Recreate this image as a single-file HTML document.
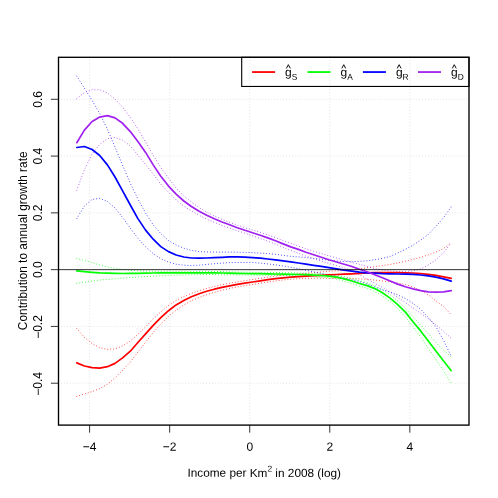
<!DOCTYPE html>
<html><head><meta charset="utf-8"><title>plot</title>
<style>html,body{margin:0;padding:0;background:#fff}svg{display:block;will-change:transform}text{font-family:"Liberation Sans",sans-serif;fill:#000}</style></head>
<body>
<svg width="498" height="498" viewBox="0 0 498 498">
<rect width="498" height="498" fill="#fff"/>
<path d="M89.60,57.3 V425.1 M169.66,57.3 V425.1 M249.72,57.3 V425.1 M329.78,57.3 V425.1 M409.84,57.3 V425.1 M58.5,99.31 H469.0 M58.5,156.09 H469.0 M58.5,212.87 H469.0 M58.5,269.65 H469.0 M58.5,326.43 H469.0 M58.5,383.21 H469.0" fill="none" stroke="#D3D3D3" stroke-width="0.74" stroke-dasharray="0.01 2.95" stroke-linecap="round"/>
<path d="M76.8,328.5 L84.4,337.4 L92.1,343.5 L99.7,347.7 L107.4,349.4 L115.0,348.9 L122.6,345.9 L130.3,341.1 L137.9,334.4 L145.6,326.9 L153.2,318.8 L160.8,312.0 L168.5,305.4 L176.1,300.4 L183.8,296.6 L191.4,293.4 L199.1,290.7 L206.7,288.4 L214.3,286.5 L222.0,284.7 L229.6,283.2 L237.3,281.9 L244.9,280.7 L252.5,279.5 L260.2,278.3 L267.8,277.1 L275.5,276.1 L283.1,275.1 L290.7,274.4 L298.4,273.8 L306.0,273.3 L313.7,272.7 L321.3,272.0 L328.9,271.3 L336.6,270.9 L344.2,270.5 L351.9,270.0 L359.5,269.0 L367.2,267.7 L374.8,266.6 L382.4,265.6 L390.1,264.5 L397.7,262.9 L405.4,261.2 L413.0,259.3 L420.6,257.4 L428.3,254.9 L435.9,252.1 L443.6,248.5 L451.2,242.8" fill="none" stroke="#FF0000" stroke-width="0.85" stroke-dasharray="0.01 2.95" stroke-linecap="round"/>
<path d="M76.8,396.3 L84.4,394.0 L92.1,391.6 L99.7,388.6 L107.4,384.3 L115.0,377.9 L122.6,370.3 L130.3,362.0 L137.9,352.1 L145.6,342.2 L153.2,332.4 L160.8,324.2 L168.5,316.3 L176.1,310.2 L183.8,305.0 L191.4,300.7 L199.1,297.5 L206.7,294.7 L214.3,292.3 L222.0,290.3 L229.6,288.4 L237.3,286.9 L244.9,285.6 L252.5,284.5 L260.2,283.2 L267.8,282.0 L275.5,281.0 L283.1,280.0 L290.7,279.3 L298.4,278.7 L306.0,278.3 L313.7,278.2 L321.3,278.2 L328.9,278.3 L336.6,278.4 L344.2,278.5 L351.9,278.6 L359.5,278.9 L367.2,279.3 L374.8,280.1 L382.4,280.9 L390.1,281.9 L397.7,283.0 L405.4,284.6 L413.0,286.9 L420.6,290.4 L428.3,294.9 L435.9,300.9 L443.6,306.5 L451.2,314.7" fill="none" stroke="#FF0000" stroke-width="0.85" stroke-dasharray="0.01 2.95" stroke-linecap="round"/>
<path d="M76.8,258.5 L84.4,260.5 L92.1,262.7 L99.7,265.0 L107.4,267.0 L115.0,268.3 L122.6,269.4 L130.3,270.3 L137.9,270.7 L145.6,271.0 L153.2,271.3 L160.8,271.4 L168.5,271.4 L176.1,271.4 L183.8,271.4 L191.4,271.4 L199.1,271.4 L206.7,271.4 L214.3,271.5 L222.0,271.6 L229.6,271.8 L237.3,272.0 L244.9,272.1 L252.5,272.2 L260.2,272.3 L267.8,272.4 L275.5,272.5 L283.1,272.7 L290.7,272.8 L298.4,273.0 L306.0,273.2 L313.7,273.5 L321.3,273.9 L328.9,274.4 L336.6,275.3 L344.2,276.7 L351.9,278.5 L359.5,280.8 L367.2,282.8 L374.8,285.7 L382.4,289.8 L390.1,294.7 L397.7,300.9 L405.4,308.5 L413.0,316.8 L420.6,325.0 L428.3,333.7 L435.9,342.5 L443.6,350.4 L451.2,357.0" fill="none" stroke="#00FF00" stroke-width="0.85" stroke-dasharray="0.01 2.95" stroke-linecap="round"/>
<path d="M76.8,283.4 L84.4,282.2 L92.1,281.0 L99.7,280.0 L107.4,279.5 L115.0,278.8 L122.6,278.1 L130.3,277.5 L137.9,277.0 L145.6,276.6 L153.2,276.2 L160.8,275.7 L168.5,275.3 L176.1,275.1 L183.8,274.9 L191.4,274.7 L199.1,274.6 L206.7,274.6 L214.3,274.6 L222.0,274.7 L229.6,274.8 L237.3,274.9 L244.9,274.9 L252.5,275.0 L260.2,275.1 L267.8,275.2 L275.5,275.4 L283.1,275.5 L290.7,275.7 L298.4,275.9 L306.0,276.2 L313.7,276.6 L321.3,277.2 L328.9,277.9 L336.6,279.1 L344.2,281.1 L351.9,283.4 L359.5,286.0 L367.2,288.3 L374.8,291.6 L382.4,296.0 L390.1,301.4 L397.7,308.5 L405.4,317.3 L413.0,326.7 L420.6,337.0 L428.3,348.3 L435.9,359.5 L443.6,371.0 L451.2,382.9" fill="none" stroke="#00FF00" stroke-width="0.85" stroke-dasharray="0.01 2.95" stroke-linecap="round"/>
<path d="M76.8,76.1 L84.4,88.2 L92.1,100.3 L99.7,113.5 L107.4,129.2 L115.0,147.1 L122.6,165.3 L130.3,183.3 L137.9,199.0 L145.6,213.1 L153.2,224.9 L160.8,233.6 L168.5,240.6 L176.1,245.0 L183.8,248.2 L191.4,250.4 L199.1,251.6 L206.7,252.0 L214.3,252.1 L222.0,252.1 L229.6,252.1 L237.3,252.2 L244.9,252.4 L252.5,252.7 L260.2,253.1 L267.8,253.6 L275.5,254.3 L283.1,255.4 L290.7,256.3 L298.4,256.9 L306.0,257.6 L313.7,258.4 L321.3,259.3 L328.9,260.2 L336.6,261.1 L344.2,261.5 L351.9,261.7 L359.5,261.3 L367.2,260.8 L374.8,259.8 L382.4,258.4 L390.1,256.4 L397.7,253.0 L405.4,249.3 L413.0,245.2 L420.6,240.2 L428.3,234.4 L435.9,226.5 L443.6,217.6 L451.2,206.9" fill="none" stroke="#0000FF" stroke-width="0.85" stroke-dasharray="0.01 2.95" stroke-linecap="round"/>
<path d="M76.8,218.7 L84.4,206.0 L92.1,199.4 L99.7,198.3 L107.4,201.4 L115.0,208.0 L122.6,217.5 L130.3,228.1 L137.9,238.3 L145.6,246.7 L153.2,253.6 L160.8,258.8 L168.5,262.1 L176.1,264.2 L183.8,265.2 L191.4,265.5 L199.1,265.2 L206.7,264.4 L214.3,263.7 L222.0,263.1 L229.6,262.6 L237.3,262.5 L244.9,262.5 L252.5,262.5 L260.2,263.1 L267.8,263.9 L275.5,264.9 L283.1,266.0 L290.7,267.3 L298.4,268.7 L306.0,270.3 L313.7,271.9 L321.3,273.5 L328.9,275.0 L336.6,276.5 L344.2,278.1 L351.9,279.7 L359.5,281.6 L367.2,283.9 L374.8,287.1 L382.4,289.7 L390.1,291.9 L397.7,294.9 L405.4,298.5 L413.0,303.4 L420.6,309.2 L428.3,317.3 L435.9,326.7 L443.6,340.4 L451.2,356.3" fill="none" stroke="#0000FF" stroke-width="0.85" stroke-dasharray="0.01 2.95" stroke-linecap="round"/>
<path d="M76.8,98.6 L84.4,92.6 L92.1,89.7 L99.7,89.7 L107.4,92.9 L115.0,99.1 L122.6,107.2 L130.3,117.3 L137.9,129.0 L145.6,142.0 L153.2,155.2 L160.8,167.4 L168.5,178.1 L176.1,188.1 L183.8,196.0 L191.4,202.1 L199.1,207.6 L206.7,212.1 L214.3,216.0 L222.0,219.4 L229.6,222.4 L237.3,225.2 L244.9,227.7 L252.5,230.0 L260.2,232.4 L267.8,234.9 L275.5,237.6 L283.1,240.5 L290.7,243.3 L298.4,246.1 L306.0,248.8 L313.7,251.3 L321.3,253.6 L328.9,255.8 L336.6,258.0 L344.2,260.2 L351.9,262.3 L359.5,264.4 L367.2,266.5 L374.8,268.7 L382.4,270.0 L390.1,270.9 L397.7,271.5 L405.4,271.4 L413.0,270.9 L420.6,269.1 L428.3,265.0 L435.9,259.8 L443.6,252.7 L451.2,242.7" fill="none" stroke="#A020F0" stroke-width="0.85" stroke-dasharray="0.01 2.95" stroke-linecap="round"/>
<path d="M76.8,190.2 L84.4,169.6 L92.1,153.9 L99.7,144.3 L107.4,138.8 L115.0,137.5 L122.6,140.1 L130.3,145.9 L137.9,155.2 L145.6,164.6 L153.2,174.0 L160.8,184.2 L168.5,192.2 L176.1,199.8 L183.8,206.1 L191.4,211.0 L199.1,215.3 L206.7,219.1 L214.3,222.4 L222.0,225.3 L229.6,228.2 L237.3,230.8 L244.9,233.2 L252.5,235.8 L260.2,238.4 L267.8,241.2 L275.5,244.2 L283.1,247.4 L290.7,250.4 L298.4,253.3 L306.0,256.2 L313.7,258.7 L321.3,261.1 L328.9,263.4 L336.6,265.6 L344.2,267.8 L351.9,270.6 L359.5,274.8 L367.2,279.2 L374.8,283.3 L382.4,287.4 L390.1,292.3 L397.7,297.3 L405.4,302.6 L413.0,308.0 L420.6,313.2 L428.3,318.7 L435.9,324.7 L443.6,331.5 L451.2,338.2" fill="none" stroke="#A020F0" stroke-width="0.85" stroke-dasharray="0.01 2.95" stroke-linecap="round"/>
<path d="M76.8,362.9 L84.4,366.0 L92.1,367.7 L99.7,368.1 L107.4,366.7 L115.0,363.4 L122.6,357.9 L130.3,351.2 L137.9,342.5 L145.6,333.9 L153.2,325.4 L160.8,317.6 L168.5,310.7 L176.1,304.9 L183.8,300.4 L191.4,296.8 L199.1,293.7 L206.7,291.3 L214.3,289.2 L222.0,287.3 L229.6,285.8 L237.3,284.4 L244.9,283.2 L252.5,282.0 L260.2,280.8 L267.8,279.6 L275.5,278.7 L283.1,277.8 L290.7,277.2 L298.4,276.6 L306.0,276.1 L313.7,275.7 L321.3,275.3 L328.9,274.9 L336.6,274.5 L344.2,274.2 L351.9,273.8 L359.5,273.3 L367.2,272.9 L374.8,272.7 L382.4,272.6 L390.1,272.6 L397.7,272.7 L405.4,272.8 L413.0,273.0 L420.6,273.5 L428.3,274.3 L435.9,275.4 L443.6,276.9 L451.2,278.4" fill="none" stroke="#FF0000" stroke-width="1.7" stroke-linecap="round" stroke-linejoin="round"/>
<path d="M76.8,270.8 L84.4,271.6 L92.1,272.3 L99.7,272.9 L107.4,273.2 L115.0,273.4 L122.6,273.5 L130.3,273.4 L137.9,273.3 L145.6,273.2 L153.2,273.0 L160.8,272.9 L168.5,272.9 L176.1,272.8 L183.8,272.8 L191.4,272.8 L199.1,272.8 L206.7,272.8 L214.3,272.9 L222.0,273.0 L229.6,273.2 L237.3,273.4 L244.9,273.5 L252.5,273.6 L260.2,273.7 L267.8,273.9 L275.5,274.0 L283.1,274.1 L290.7,274.3 L298.4,274.5 L306.0,274.7 L313.7,275.1 L321.3,275.5 L328.9,276.2 L336.6,277.2 L344.2,278.9 L351.9,281.0 L359.5,283.5 L367.2,285.6 L374.8,288.6 L382.4,292.8 L390.1,298.1 L397.7,304.7 L405.4,312.1 L413.0,321.7 L420.6,330.9 L428.3,340.9 L435.9,351.1 L443.6,361.1 L451.2,370.7" fill="none" stroke="#00FF00" stroke-width="1.7" stroke-linecap="round" stroke-linejoin="round"/>
<path d="M76.8,147.5 L84.4,146.5 L92.1,149.5 L99.7,155.5 L107.4,164.9 L115.0,177.0 L122.6,190.9 L130.3,205.0 L137.9,218.6 L145.6,230.1 L153.2,239.2 L160.8,246.6 L168.5,251.6 L176.1,255.0 L183.8,257.0 L191.4,258.0 L199.1,258.2 L206.7,258.0 L214.3,257.7 L222.0,257.3 L229.6,256.9 L237.3,256.9 L244.9,257.1 L252.5,257.6 L260.2,258.2 L267.8,259.0 L275.5,259.8 L283.1,260.8 L290.7,261.9 L298.4,263.0 L306.0,264.2 L313.7,265.3 L321.3,266.4 L328.9,267.6 L336.6,268.8 L344.2,270.1 L351.9,271.1 L359.5,272.1 L367.2,272.8 L374.8,273.2 L382.4,273.6 L390.1,273.8 L397.7,274.0 L405.4,274.1 L413.0,274.4 L420.6,275.0 L428.3,275.9 L435.9,277.1 L443.6,278.9 L451.2,281.1" fill="none" stroke="#0000FF" stroke-width="1.7" stroke-linecap="round" stroke-linejoin="round"/>
<path d="M76.8,142.7 L84.4,130.1 L92.1,121.5 L99.7,117.1 L107.4,115.6 L115.0,117.9 L122.6,123.3 L130.3,131.6 L137.9,141.4 L145.6,152.4 L153.2,164.9 L160.8,176.2 L168.5,186.1 L176.1,194.2 L183.8,201.0 L191.4,206.5 L199.1,211.3 L206.7,215.2 L214.3,218.8 L222.0,222.0 L229.6,224.8 L237.3,227.7 L244.9,230.3 L252.5,232.7 L260.2,235.3 L267.8,237.9 L275.5,240.8 L283.1,243.9 L290.7,246.9 L298.4,249.4 L306.0,252.2 L313.7,254.8 L321.3,257.2 L328.9,259.7 L336.6,262.0 L344.2,264.2 L351.9,266.5 L359.5,269.3 L367.2,271.8 L374.8,274.7 L382.4,277.8 L390.1,281.0 L397.7,284.1 L405.4,286.8 L413.0,288.9 L420.6,290.6 L428.3,291.8 L435.9,292.1 L443.6,291.9 L451.2,290.7" fill="none" stroke="#A020F0" stroke-width="1.7" stroke-linecap="round" stroke-linejoin="round"/>
<path d="M58.5,269.65 H469.0" stroke="#000" stroke-width="0.8" fill="none"/>
<rect x="241.7" y="57.3" width="227.3" height="29.150000000000006" fill="none" stroke="#000" stroke-width="1.1"/>
<path d="M252.1,72.05 h23.0" stroke="#FF0000" stroke-width="1.8" fill="none"/>
<text x="285.1" y="76.3" font-size="12" transform="rotate(0.05 285.1 76.3)">g</text>
<path d="M286.4,68.4 l1.95,-3.7 l1.95,3.7" fill="none" stroke="#000" stroke-width="0.95"/>
<text x="291.8" y="79.7" font-size="8.4" transform="rotate(0.05 291.8 79.7)">S</text>
<path d="M307.5,72.05 h23.0" stroke="#00FF00" stroke-width="1.8" fill="none"/>
<text x="340.5" y="76.3" font-size="12" transform="rotate(0.05 340.5 76.3)">g</text>
<path d="M341.8,68.4 l1.95,-3.7 l1.95,3.7" fill="none" stroke="#000" stroke-width="0.95"/>
<text x="347.2" y="79.7" font-size="8.4" transform="rotate(0.05 347.2 79.7)">A</text>
<path d="M362.9,72.05 h23.0" stroke="#0000FF" stroke-width="1.8" fill="none"/>
<text x="395.9" y="76.3" font-size="12" transform="rotate(0.05 395.9 76.3)">g</text>
<path d="M397.2,68.4 l1.95,-3.7 l1.95,3.7" fill="none" stroke="#000" stroke-width="0.95"/>
<text x="402.6" y="79.7" font-size="8.4" transform="rotate(0.05 402.6 79.7)">R</text>
<path d="M418.0,72.05 h23.0" stroke="#A020F0" stroke-width="1.8" fill="none"/>
<text x="451.0" y="76.3" font-size="12" transform="rotate(0.05 451.0 76.3)">g</text>
<path d="M452.3,68.4 l1.95,-3.7 l1.95,3.7" fill="none" stroke="#000" stroke-width="0.95"/>
<text x="457.7" y="79.7" font-size="8.4" transform="rotate(0.05 457.7 79.7)">D</text>
<rect x="58.5" y="57.3" width="410.5" height="367.8" fill="none" stroke="#000" stroke-width="1.35"/>
<path d="M89.60,425.1 v7.6 M169.66,425.1 v7.6 M249.72,425.1 v7.6 M329.78,425.1 v7.6 M409.84,425.1 v7.6 M58.5,99.31 h-7.6 M58.5,156.09 h-7.6 M58.5,212.87 h-7.6 M58.5,269.65 h-7.6 M58.5,326.43 h-7.6 M58.5,383.21 h-7.6" fill="none" stroke="#000" stroke-width="0.8"/>
<text x="89.60" y="450.8" font-size="12" text-anchor="middle" transform="rotate(0.05 89.60 450.8)">−4</text>
<text x="169.66" y="450.8" font-size="12" text-anchor="middle" transform="rotate(0.05 169.66 450.8)">−2</text>
<text x="249.72" y="450.8" font-size="12" text-anchor="middle" transform="rotate(0.05 249.72 450.8)">0</text>
<text x="329.78" y="450.8" font-size="12" text-anchor="middle" transform="rotate(0.05 329.78 450.8)">2</text>
<text x="409.84" y="450.8" font-size="12" text-anchor="middle" transform="rotate(0.05 409.84 450.8)">4</text>
<text transform="translate(42.3,99.31) rotate(-90)" font-size="12" text-anchor="middle">0.6</text>
<text transform="translate(42.3,156.09) rotate(-90)" font-size="12" text-anchor="middle">0.4</text>
<text transform="translate(42.3,212.87) rotate(-90)" font-size="12" text-anchor="middle">0.2</text>
<text transform="translate(42.3,269.65) rotate(-90)" font-size="12" text-anchor="middle">0.0</text>
<text transform="translate(42.3,327.03) rotate(-90)" font-size="12" text-anchor="middle">−0.2</text>
<text transform="translate(42.3,383.81) rotate(-90)" font-size="12" text-anchor="middle">−0.4</text>
<text x="264.2" y="476.9" font-size="11.8" text-anchor="middle" transform="rotate(0.05 264.2 476.9)">Income per Km<tspan font-size="8.4" dy="-5.4">2</tspan><tspan dy="5.4"> in 2008 (log)</tspan></text>
<text transform="translate(26.6,240.8) rotate(-90)" font-size="11.87" text-anchor="middle">Contribution to annual growth rate</text>
</svg></body></html>
